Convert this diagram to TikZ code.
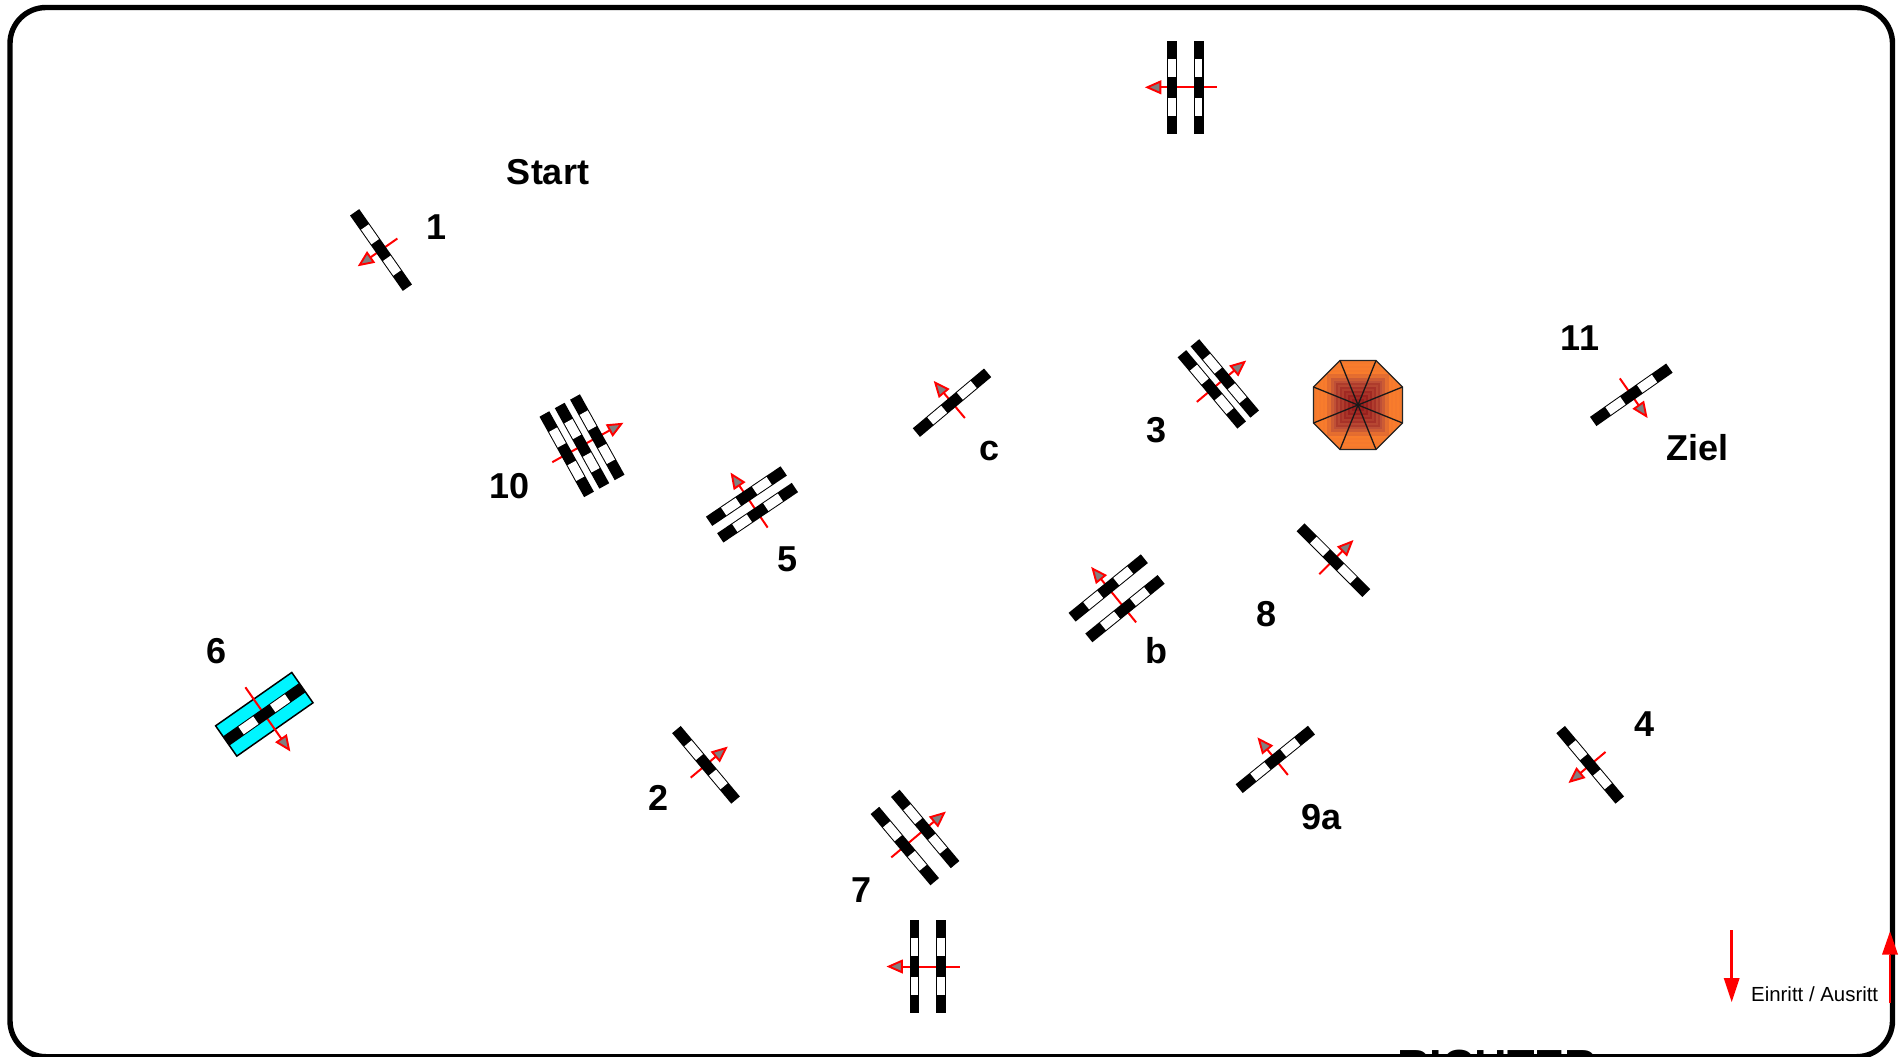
\documentclass[tikz,border=0pt]{standalone}
\usepackage{fontspec}
\setmainfont{Liberation Sans}
\definecolor{flagred}{RGB}{255,0,0}
\definecolor{headgrey}{RGB}{128,128,128}
\definecolor{waterblue}{RGB}{0,245,255}
\definecolor{octouter}{RGB}{248,124,44}
\definecolor{octmid}{RGB}{190,80,55}
\definecolor{octinner}{RGB}{150,28,28}
\newcommand{\hw}{5.6}
\newcommand{\hwin}{4.6}
% #1 x, #2 y, #3 arrow direction, #4 bar length, #5 bar offsets, #6 tail, #7 tip
\newcommand{\hindernis}[7]{%
  \begin{scope}[shift={(#1,#2)},rotate=#3]
    \draw[arrowline] (-#6,0) -- (#7-13,0);
    \draw[arrowhead] (#7,0) -- (#7-13,5.7) -- (#7-13,-5.7) -- cycle;
    \foreach \o in {#5}{%
      \begin{scope}[xshift=\o pt]
        \fill[black] (-\hw,-#4/2) rectangle (\hw,#4/2);
        \fill[white] (-\hwin,{-0.305*#4}) rectangle (\hwin,{-0.11*#4});
        \fill[white] (-\hwin,{0.11*#4}) rectangle (\hwin,{0.305*#4});
      \end{scope}}
  \end{scope}}
\tikzset{
  arrowline/.style={draw=flagred,line width=2pt},
  arrowhead/.style={draw=flagred,fill=headgrey,line width=1.9pt,line join=miter},
  num/.style={font=\fontsize{36}{36}\selectfont\bfseries,text=black,anchor=base,inner sep=0pt},
  frame/.style={draw=black,line width=5.4pt,rounded corners=36pt},
  legendline/.style={draw=flagred,line width=2.6pt},
  legendhead/.style={fill=flagred},
}
\begin{document}
\begin{tikzpicture}[x=1pt,y=-1pt]
\useasboundingbox (0,0) rectangle (1899,1057);
\fill[white] (0,0) rectangle (1899,1057);
% clipped title and frame
\begin{scope}
  \clip (0,0) rectangle (1899,1056);
  \node[font=\fontsize{45}{45}\selectfont\bfseries,anchor=base west,inner sep=0pt] (richter) at (1397,1081.5) {RICHTER};
  \draw[frame] (10,7.5) rectangle (1892.5,1056.7);
\end{scope}
% octagon
\begin{scope}[shift={(1358,405)}]
  \begin{scope}
    \clip (-18,-44.5) -- (18,-44.5) -- (44.5,-18) -- (44.5,18) -- (18,44.5) -- (-18,44.5) -- (-44.5,18) -- (-44.5,-18) -- cycle;
    \fill[octouter] (-45,-45) rectangle (45,45);
    \foreach \r in {45,43,...,25}{
      \pgfmathtruncatemacro{\p}{min((\r-24)*100/10,100)}
      \pgfmathtruncatemacro{\q}{mod(\r-1,4)==0 ? min(\p+18,100) : max(\p-6,0)}
      \fill[octouter!\q!octmid] (-\r,-\r) rectangle (\r,\r);
    }
    \foreach \r in {24,22,...,2}{
      \pgfmathtruncatemacro{\p}{100-(24-\r)*4.5}
      \pgfmathtruncatemacro{\q}{mod(\r,4)==0 ? \p : max(\p-30,0)}
      \fill[octmid!\q!octinner] (-\r,-\r) rectangle (\r,\r);
    }
  \end{scope}
  \draw[black!85,line width=1.3pt,line join=miter] (-18,-44.5) -- (18,-44.5) -- (44.5,-18) -- (44.5,18) -- (18,44.5) -- (-18,44.5) -- (-44.5,18) -- (-44.5,-18) -- cycle;
  \foreach \x/\y in {-18/-44.5,18/-44.5,44.5/-18,44.5/18}{
    \draw[black!90,line width=1.3pt] (\x,\y) -- (-\x,-\y);
  }
\end{scope}
% water jump base
\begin{scope}[shift={(264.3,714.3)},rotate=-55]
  \draw[fill=waterblue,line width=1.5pt] (-18.5,-46.5) rectangle (18.5,46.5);
\end{scope}
% obstacles
\renewcommand{\hw}{4.9}\renewcommand{\hwin}{3.7}
\hindernis{1185.3}{87.3}{180}{93}{-13.3,13.3}{31.4}{38}
\hindernis{927.7}{966.5}{180}{93}{-13.3,13.3}{32}{38.8}
\renewcommand{\hw}{5.6}\renewcommand{\hwin}{4.6}
\hindernis{381}{250}{-145}{92}{0}{20}{26}
\hindernis{582}{445.7}{29}{92}{-17.5,0,17.5}{34}{45}
\hindernis{752}{504.4}{124}{90}{-10,10}{28}{36}
\hindernis{952}{402.7}{130}{93}{0}{20}{26}
\hindernis{1218.3}{383.9}{40}{93}{-8.5,8.5}{28}{34}
\hindernis{1631.3}{394.8}{-55}{93}{0}{20}{26}
\hindernis{1116.6}{598.3}{129}{93}{-13.3,13.3}{31}{38}
\hindernis{1333.4}{560.1}{45}{93}{0}{20}{26}
\hindernis{1275.3}{759.4}{129}{93}{0}{20}{26}
\hindernis{1590.2}{764.8}{-140}{92}{0}{20}{26}
\hindernis{706}{764.8}{40}{92}{0}{20}{26}
\hindernis{915}{837.5}{40}{93}{-13.3,13.3}{31}{38}
\hindernis{264.3}{714.3}{-55}{93}{0}{33}{43}
% labels
\node[num] (start) at (548,184) {Start};
\node[num] (n1) at (437,239) {1};
\node[num] (n10) at (510,498) {10};
\node[num] (n5) at (788,571) {5};
\node[num] (nc) at (990,460) {c};
\node[num] (n3) at (1156,442) {3};
\node[num] (n11) at (1580,350) {11};
\node[num] (ziel) at (1697,460) {Ziel};
\node[num] (n8) at (1266.6,626) {8};
\node[num] (nb) at (1156,663) {b};
\node[num] (n6) at (216.6,663) {6};
\node[num] (n2) at (658.6,810) {2};
\node[num] (n7) at (862,902) {7};
\node[num] (n9a) at (1321.5,829) {9a};
\node[num] (n4) at (1644.5,736) {4};
% legend
\coordinate (downtop) at (1731.7,930);
\coordinate (downbase) at (1731.7,978);
\draw[legendline] (downtop) -- (downbase);
\fill[legendhead] (1731.7,1002) -- (1723.7,978) -- (1739.7,978) -- cycle;
\coordinate (upbot) at (1890,1002.5);
\coordinate (upbase) at (1890,954.5);
\draw[legendline] (upbot) -- (upbase);
\fill[legendhead] (1890,931.5) -- (1882,954.5) -- (1898,954.5) -- cycle;
\node[font=\fontsize{20.4}{20.4}\selectfont,anchor=base west,inner sep=0pt] (legend) at (1751,1001) {Einritt / Ausritt};
\end{tikzpicture}
\end{document}
